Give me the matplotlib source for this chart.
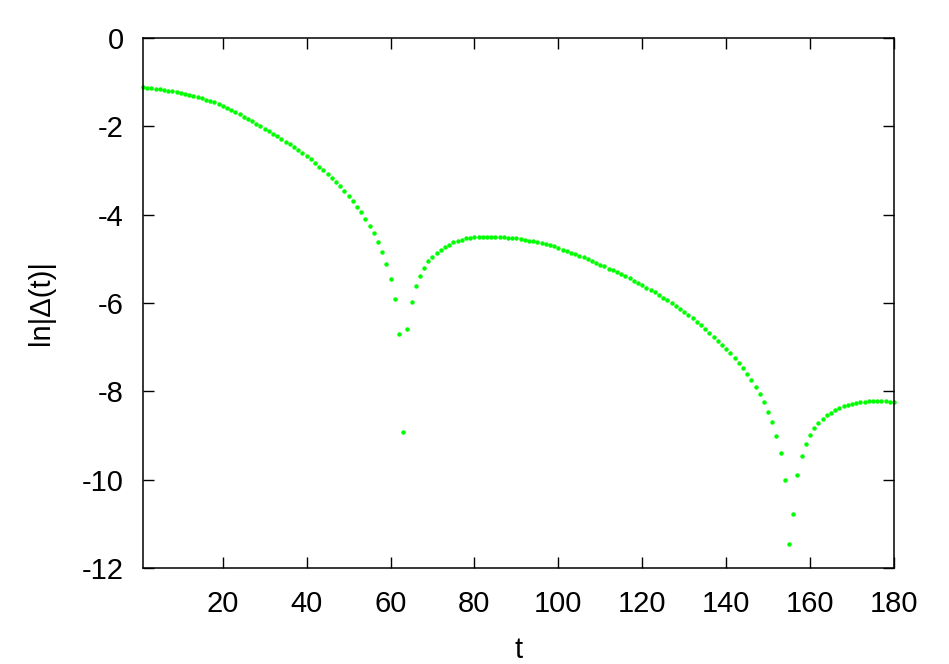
import matplotlib
matplotlib.use('Agg')
import matplotlib.pyplot as plt
import numpy as np

# time steps and ln|Delta(t)|
t = np.arange(1, 181)
ln_delta = [
    # 1-20
    -1.12, -1.13, -1.14, -1.15, -1.16, -1.18, -1.19, -1.21, -1.23, -1.25,
    -1.27, -1.29, -1.31, -1.34, -1.37, -1.40, -1.43, -1.46, -1.50, -1.54,
    # 21-40
    -1.58, -1.63, -1.68, -1.73, -1.78, -1.84, -1.89, -1.94, -2.00, -2.05,
    -2.11, -2.17, -2.23, -2.29, -2.35, -2.41, -2.47, -2.53, -2.61, -2.68,
    # 41-60
    -2.75, -2.83, -2.91, -2.99, -3.08, -3.17, -3.27, -3.36, -3.47, -3.58,
    -3.70, -3.82, -3.95, -4.10, -4.26, -4.42, -4.62, -4.85, -5.11, -5.45,
    # 61-80
    -5.91, -6.70, -8.92, -6.58, -5.97, -5.62, -5.38, -5.21, -5.06, -4.96,
    -4.87, -4.80, -4.73, -4.68, -4.63, -4.60, -4.57, -4.54, -4.53, -4.51,
    # 81-100
    -4.51, -4.50, -4.50, -4.50, -4.50, -4.51, -4.51, -4.52, -4.53, -4.54,
    -4.56, -4.57, -4.59, -4.60, -4.62, -4.64, -4.66, -4.69, -4.71, -4.75,
    # 101-120
    -4.79, -4.82, -4.86, -4.89, -4.93, -4.97, -5.01, -5.05, -5.09, -5.13,
    -5.17, -5.22, -5.25, -5.30, -5.34, -5.39, -5.44, -5.50, -5.54, -5.59,
    # 121-140
    -5.65, -5.71, -5.76, -5.82, -5.88, -5.94, -6.00, -6.07, -6.13, -6.20,
    -6.28, -6.35, -6.42, -6.50, -6.58, -6.67, -6.76, -6.85, -6.94, -7.04,
    # 141-160
    -7.14, -7.25, -7.36, -7.47, -7.61, -7.74, -7.90, -8.06, -8.24, -8.46,
    -8.70, -9.01, -9.40, -10.00, -11.45, -10.77, -9.90, -9.47, -9.19, -8.99,
    # 161-180
    -8.84, -8.72, -8.62, -8.54, -8.48, -8.42, -8.37, -8.33, -8.30, -8.28,
    -8.27, -8.25, -8.24, -8.23, -8.22, -8.22, -8.22, -8.23, -8.24, -8.24,
]

xticks = [20, 40, 60, 80, 100, 120, 140, 160, 180]
yticks = [0, -2, -4, -6, -8, -10, -12]

plt.rcParams['font.family'] = ['Liberation Sans', 'DejaVu Sans']
plt.rcParams['font.size'] = 21
plt.rcParams['axes.unicode_minus'] = False

fig = plt.figure(figsize=(9.49, 6.64), dpi=100)
ax = fig.add_axes([0.1507, 0.1446, 0.7913, 0.7982])

ax.plot(t, ln_delta, 'o', color='#00ff00', markersize=3.2,
        markeredgewidth=0, clip_on=False)

ax.set_xlim(1, 180)
ax.set_ylim(-12, 0)
ax.set_xticks(xticks)
ax.set_yticks(yticks)
ax.tick_params(direction='in', length=8, width=1, top=True, right=True)
ax.tick_params(axis='x', pad=16)
ax.tick_params(axis='y', pad=14)
for sp in ax.spines.values():
    sp.set_linewidth(1.1)

ax.set_xlabel('t', labelpad=13)
ax.set_ylabel('ln|Δ(t)|', labelpad=19)

fig.savefig('out.png', dpi=100)
